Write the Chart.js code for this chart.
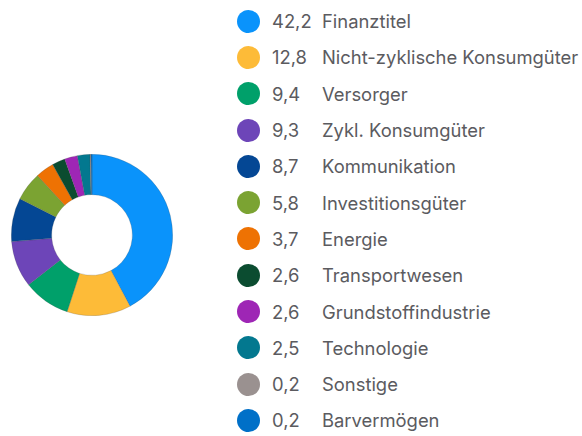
<!DOCTYPE html>
<html lang="de">
<head>
<meta charset="utf-8">
<title>Sektoren (%)</title>
<script src="https://cdn.jsdelivr.net/npm/chart.js@4.4.1/dist/chart.umd.min.js"></script>
<style>
    html, body {
        margin: 0;
        padding: 0;
        width: 582px;
        height: 436px;
        overflow: hidden;
        background: #fff;
        font-family: Inter, "Noto Sans", sans-serif;
    }
    #chartBox {
        position: absolute;
        left: 11px;
        top: 154px;
        width: 162px;
        height: 162px;
    }
    #chartLegend {
        position: absolute;
        left: 237px;
        top: 3px;
    }
    .legend-item {
        display: flex;
        align-items: center;
        height: 36.3px;
        color: #5b5b5f;
        font-size: 18.4px;
        white-space: nowrap;
    }
    .legend-dot {
        width: 23px;
        height: 23px;
        border-radius: 50%;
        flex: none;
    }
    .legend-value {
        width: 50px;
        margin-left: 12px;
    }
</style>
</head>
<body>
<div id="chartBox"><canvas id="sectorChart"></canvas></div>
<div id="chartLegend"></div>

<script>
// Sector weights in percent
const sectors = [
    'Finanztitel',
    'Nicht-zyklische Konsumgüter',
    'Versorger',
    'Zykl. Konsumgüter',
    'Kommunikation',
    'Investitionsgüter',
    'Energie',
    'Transportwesen',
    'Grundstoffindustrie',
    'Technologie',
    'Sonstige',
    'Barvermögen'
];
const weights = [42.2, 12.8, 9.4, 9.3, 8.7, 5.8, 3.7, 2.6, 2.6, 2.5, 0.2, 0.2];
const sectorColors = [
    '#0a93fb', '#fdbb38', '#00a06a', '#6d45b8', '#044794', '#7ba332',
    '#ee7203', '#0b4c30', '#9e26b5', '#03788f', '#9a9190', '#0070c8'
];

function createCustomLegend(labels, values, colors) {
    const legendContainer = document.getElementById('chartLegend');
    legendContainer.innerHTML = '';

    labels.forEach((label, index) => {
        const legendItem = document.createElement('div');
        legendItem.className = 'legend-item';

        const dot = document.createElement('div');
        dot.className = 'legend-dot';
        dot.style.backgroundColor = colors[index];

        const value = document.createElement('span');
        value.className = 'legend-value';
        value.textContent = values[index].toFixed(1).replace('.', ',');

        const text = document.createElement('span');
        text.className = 'legend-text';
        text.textContent = label;

        legendItem.appendChild(dot);
        legendItem.appendChild(value);
        legendItem.appendChild(text);
        legendContainer.appendChild(legendItem);
    });
}

createCustomLegend(sectors, weights, sectorColors);

const ctx = document.getElementById('sectorChart').getContext('2d');
new Chart(ctx, {
    type: 'doughnut',
    data: {
        labels: sectors,
        datasets: [{
            data: weights,
            backgroundColor: sectorColors,
            borderColor: 'rgba(70, 70, 70, 0.35)',
            borderWidth: 0.6
        }]
    },
    options: {
        responsive: true,
        maintainAspectRatio: false,
        animation: false,
        cutout: '50%',
        layout: { padding: 0 },
        plugins: {
            legend: { display: false },
            tooltip: { enabled: false }
        }
    }
});
</script>
</body>
</html>
